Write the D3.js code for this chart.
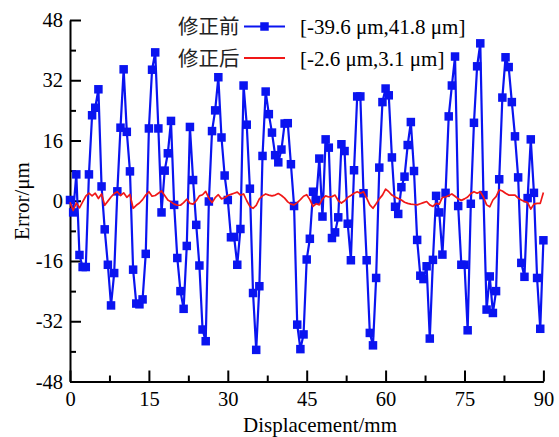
<!DOCTYPE html>
<html>
<head>
<meta charset="utf-8">
<script src="https://cdn.jsdelivr.net/npm/d3@7/dist/d3.min.js"></script>
<style>
  html, body { margin: 0; padding: 0; background: #fff; }
  svg { display: block; }
  .serif { font-family: "Liberation Serif", "Times New Roman", serif; }
  .cjk { font-family: "Noto Sans CJK SC", sans-serif; }
</style>
</head>
<body>
<svg id="chart" width="559" height="437"></svg>
<script>
// Sampling step along the displacement axis (mm)
const sampleStep = 0.6;

// Error before correction (μm)
const beforeCorrection = [
  0.2, -3.1, 7.0, -14.4, -17.6, -17.6, 7.0, 22.7, 24.7, 29.6,
  3.8, -7.6, -17.0, -27.8, -19.2, 2.5, 19.4, 34.9, 18.3, 7.8,
  -18.3, -27.3, -27.5, -26.2, -14.1, 19.2, 34.8, 39.4, 19.2, -3.1,
  8.0, 12.6, 21.2, -1.1, -15.2, -24.0, -28.7, -12.0, 19.6, 5.5,
  -6.4, -17.2, -34.2, -37.3, -0.2, 18.5, 24.0, 32.8, 16.8, 6.7,
  0.2, -9.7, -9.6, -17.0, -7.5, 30.6, 20.2, 3.2, -24.5, -39.6,
  -22.7, 11.9, 29.0, 23.0, 18.1, 12.1, 10.2, 13.6, 20.5, 20.6,
  9.7, -1.4, -32.9, -39.4, -35.5, -15.6, -10.1, 2.4, 0.2, 11.2,
  -4.2, 16.3, 14.1, -9.9, -8.4, -4.4, 15.0, 13.2, -6.1, -15.8,
  8.1, 27.7, 27.7, 2.0, -15.8, -35.1, -38.4, -20.5, 8.8, 26.2,
  29.8, 28.0, 11.5, -1.6, -3.5, 3.6, 6.4, 14.8, 20.9, 7.9,
  -10.4, -19.9, -20.8, -17.4, -36.6, -15.7, 1.3, -3.1, -14.3, 2.1,
  22.4, 30.6, 38.3, -1.4, -17.0, -17.0, -34.4, -0.8, 20.7, 35.7,
  41.8, 1.5, -28.9, -20.1, -29.8, -24.0, 5.7, 27.4, 38.1, 35.5,
  26.2, 17.1, 6.2, -16.5, -20.2, 0.7, 16.3, 2.1, -20.5, -34.0,
  -10.5
];

// Error after correction (μm)
const afterCorrection = [
  -0.4, -2.6, -0.6, -1.9, -0.3, 1.2, 2.0, 1.3, 2.0, 0.6,
  1.8, -1.2, -0.1, 1.0, 1.9, 2.4, 1.4, 2.1, 0.9, 1.7,
  -2.0, -1.2, -0.6, 0.3, 1.5, 2.4, 1.2, 1.4, 2.0, 2.6,
  1.4, 0.2, -0.3, -0.9, -1.2, -1.2, -0.5, 0.4, -0.7, -0.9,
  0.0, 1.3, 1.6, 2.5, 0.7, -0.5, 0.8, 1.6, 0.5, 0.8,
  1.4, 1.7, 2.0, 2.3, 1.5, 1.8, 0.0, -1.5, -2.0, -1.2,
  0.5, 1.3, 1.8, 1.5, 1.3, 1.5, 1.9, 1.4, 0.7, -0.3,
  -0.9, -1.1, -0.5, 0.3, 1.2, 1.6, 0.3, -1.5, -0.8, -1.1,
  0.5, 1.3, 1.0, 1.1, 1.5, 0.0, -0.6, 0.0, 0.9, 1.4,
  2.0, 2.4, 2.0, 2.4, 0.7, -1.1, -2.0, -0.8, 0.5, 1.5,
  3.1, 2.4, 1.5, 1.0, 0.6, 0.2, -0.4, -0.7, -0.9, -1.0,
  -1.1, -0.8, -0.5, -0.2, -1.1, -1.5, -0.7, -0.9, 0.9, 1.0,
  1.4, 1.8, 1.2, 0.5, 0.1, 0.5, 1.0, 1.9, 2.4, 2.0,
  2.4, 1.0, -1.1, -1.6, 0.2, 1.1, 2.9, 2.6, 2.0, 1.5,
  1.5, 1.5, 0.7, 0.2, -0.2, -0.5, -2.2, -0.9, -0.7, -0.7,
  2.2
];

const xMajorTicks = [0, 15, 30, 45, 60, 75, 90];
const xMinorTicks = [7.5, 22.5, 37.5, 52.5, 67.5, 82.5];
const yMajorTicks = [-48, -32, -16, 0, 16, 32, 48];
const yMinorTicks = [-40, -24, -8, 8, 24, 40];

const seriesNames = ["修正前", "修正后"];
const rangeLabels = ["[-39.6 μm,41.8 μm]", "[-2.6 μm,3.1 μm]"];
const xTitle = "Displacement/mm";
const yTitle = "Error/μm";

const svg = d3.select("#chart");

const x = d3.scaleLinear().domain([0, 90]).range([70, 543.4]);
const y = d3.scaleLinear().domain([-48, 48]).range([381.5, 20]);

const blue = "#0a14f0";
const red = "#f01818";

const before = beforeCorrection.map((v, i) => ({ x: i * sampleStep, y: v }));
const after = afterCorrection.map((v, i) => ({ x: i * sampleStep, y: v }));

// Axes
svg.append("g").attr("transform", `translate(${x(0)},0)`)
  .call(d3.axisLeft(y).tickValues(yMajorTicks).tickSizeInner(-11).tickSizeOuter(0)
    .tickPadding(7).tickFormat(d => String(d)));
svg.append("g").attr("transform", `translate(${x(0)},0)`)
  .call(d3.axisLeft(y).tickValues(yMinorTicks).tickSizeInner(-6).tickSizeOuter(0).tickFormat(""))
  .select(".domain").remove();

svg.append("g").attr("transform", `translate(0,${y(-48)})`)
  .call(d3.axisBottom(x).tickValues(xMajorTicks).tickSizeInner(-11).tickSizeOuter(0)
    .tickPadding(10).tickFormat(d => String(d)));
svg.append("g").attr("transform", `translate(0,${y(-48)})`)
  .call(d3.axisBottom(x).tickValues(xMinorTicks).tickSizeInner(-6).tickSizeOuter(0).tickFormat(""))
  .select(".domain").remove();

svg.selectAll(".domain, .tick line").attr("stroke", "#000").attr("stroke-width", 2);
svg.selectAll(".tick text").attr("class", "serif").attr("font-size", 20.5).attr("fill", "#000");

// Axis titles
svg.append("text").attr("class", "serif")
  .attr("x", 320).attr("y", 432).attr("text-anchor", "middle")
  .attr("font-size", 21).text(xTitle);
svg.append("text").attr("class", "serif")
  .attr("transform", "translate(29,201) rotate(-90)")
  .attr("text-anchor", "middle").attr("font-size", 21).text(yTitle);

// Series
const line = d3.line().x(d => x(d.x)).y(d => y(d.y));

svg.append("path").datum(before)
  .attr("fill", "none").attr("stroke", blue).attr("stroke-width", 2.2)
  .attr("stroke-linejoin", "round").attr("d", line);

const sq = 8.5;
svg.append("g").selectAll("rect").data(before).join("rect")
  .attr("x", d => x(d.x) - sq / 2).attr("y", d => y(d.y) - sq / 2)
  .attr("width", sq).attr("height", sq).attr("fill", blue);

svg.append("path").datum(after)
  .attr("fill", "none").attr("stroke", red).attr("stroke-width", 1.7)
  .attr("stroke-linejoin", "round").attr("d", line);

// Legend
const legendRows = [
  { name: seriesNames[0], range: rangeLabels[0], color: blue, marker: true, cy: 26.5 },
  { name: seriesNames[1], range: rangeLabels[1], color: red, marker: false, cy: 58 }
];
const lg = svg.append("g");
legendRows.forEach(r => {
  lg.append("text").attr("class", "cjk").attr("x", 178).attr("y", r.cy + 7.5)
    .attr("font-size", 20.5).attr("fill", "#222").text(r.name);
  lg.append("line").attr("x1", 244).attr("x2", 285).attr("y1", r.cy).attr("y2", r.cy)
    .attr("stroke", r.color).attr("stroke-width", r.marker ? 2.2 : 1.9);
  if (r.marker) {
    lg.append("rect").attr("x", 264.5 - sq / 2).attr("y", r.cy - sq / 2)
      .attr("width", sq).attr("height", sq).attr("fill", r.color);
  }
  lg.append("text").attr("class", "serif").attr("x", 300).attr("y", r.cy + 7.5)
    .attr("font-size", 21).attr("fill", "#000").text(r.range);
});
</script>
</body>
</html>
